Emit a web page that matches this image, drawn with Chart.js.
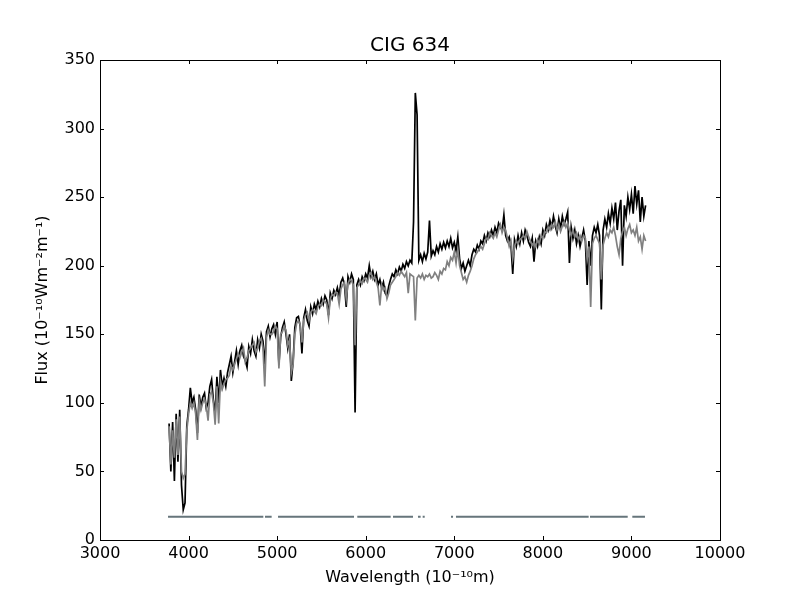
<!DOCTYPE html>
<html>
<head>
<meta charset="utf-8">
<script src="https://cdn.jsdelivr.net/npm/chart.js@4.4.0/dist/chart.umd.min.js"></script>
<style>
html,body{margin:0;padding:0;background:#ffffff;}
#wrap{width:800px;height:600px;}
</style>
</head>
<body>
<div id="wrap"><canvas id="c" width="800" height="600"></canvas></div>
<script>
// Wavelength grid (Angstrom)
const wavelength = [
3780,3800,3820,3840,3860,3880,3900,3920,3940,3960,
3980,4000,4020,4040,4060,4080,4100,4120,4140,4160,
4180,4200,4220,4240,4260,4280,4300,4320,4340,4360,
4380,4400,4420,4440,4460,4480,4500,4520,4540,4560,
4580,4600,4620,4640,4660,4680,4700,4720,4740,4760,
4780,4800,4820,4840,4860,4880,4900,4920,4940,4960,
4980,5000,5020,5040,5060,5080,5100,5120,5140,5160,
5180,5200,5220,5240,5260,5280,5300,5320,5340,5360,
5380,5400,5420,5440,5460,5480,5500,5520,5540,5560,
5580,5600,5620,5640,5660,5680,5700,5720,5740,5760,
5780,5800,5820,5840,5860,5880,5900,5920,5940,5960,
5980,6000,6020,6040,6060,6080,6100,6120,6140,6160,
6180,6200,6220,6240,6260,6280,6300,6320,6340,6360,
6380,6400,6420,6440,6460,6480,6500,6520,6540,6560,
6580,6600,6620,6640,6660,6680,6700,6720,6740,6760,
6780,6800,6820,6840,6860,6880,6900,6920,6940,6960,
6980,7000,7020,7040,7060,7080,7100,7120,7140,7160,
7180,7200,7220,7240,7260,7280,7300,7320,7340,7360,
7380,7400,7420,7440,7460,7480,7500,7520,7540,7560,
7580,7600,7620,7640,7660,7680,7700,7720,7740,7760,
7780,7800,7820,7840,7860,7880,7900,7920,7940,7960,
7980,8000,8020,8040,8060,8080,8100,8120,8140,8160,
8180,8200,8220,8240,8260,8280,8300,8320,8340,8360,
8380,8400,8420,8440,8460,8480,8500,8520,8540,8560,
8580,8600,8620,8640,8660,8680,8700,8720,8740,8760,
8780,8800,8820,8840,8860,8880,8900,8920,8940,8960,
8980,9000,9020,9040,9060,9080,9100,9120,9140,9160
];

// Observed spectrum (black)
const fluxObserved = [
85,50,86,43,92,57,95,40,22,27,
83,95,111,100,104,95,78,106,97,104,
107,96,100,112,117,102,92,119,100,124,
112,118,112,122,128,134,122,130,138,128,
138,142,134,131,126,141,136,146,138,134,
146,140,150,145,128,152,156,148,154,157,
150,159,128,148,155,159,150,140,150,116,
130,155,162,163,156,136,162,168,160,156,
170,165,172,168,174,170,176,172,178,175,
164,180,176,182,179,184,178,188,191,186,
170,192,188,194,190,93,186,190,186,192,
189,194,191,200,192,196,190,194,186,190,
184,188,180,178,185,190,194,192,197,194,
199,196,201,198,203,200,204,202,232,326,
310,204,208,203,209,205,210,233,207,211,
208,214,210,216,212,217,213,218,214,220,
213,217,211,221,205,198,202,196,200,204,
200,208,212,210,215,212,218,216,222,218,
224,221,226,222,228,224,231,228,226,237,
222,218,221,215,194,219,214,222,216,224,
218,226,222,217,214,220,203,218,214,221,
216,226,222,230,226,233,228,236,229,224,
234,227,236,230,234,239,202,228,220,226,
216,222,214,220,226,218,186,218,200,222,
228,224,230,222,168,226,234,228,238,231,
242,234,246,226,240,248,200,244,236,250,
241,252,238,258,245,255,232,250,236,244
];

// Model spectrum (gray)
const fluxModel = [
83,55,80,60,88,62,90,50,45,48,
80,92,100,96,100,92,73,102,95,100,
103,98,87,106,108,100,84,112,85,116,
110,114,117,118,120,127,124,128,132,136,
133,137,140,130,133,138,140,142,144,137,
140,145,147,140,112,148,153,150,150,152,
156,154,125,150,152,156,153,142,146,122,
128,150,158,160,157,144,160,164,166,160,
166,168,167,165,170,172,171,175,174,172,
162,176,179,178,181,180,172,183,186,188,
176,187,190,189,186,142,184,186,189,187,
191,190,188,193,195,190,192,188,184,171,
186,182,184,176,180,186,188,190,192,195,
193,196,194,192,195,180,194,193,192,160,
191,193,191,194,190,193,192,194,191,192,
195,193,190,196,194,198,197,203,200,206,
204,210,202,212,200,195,190,192,188,193,
196,200,205,208,210,212,214,212,216,220,
219,224,222,220,224,221,226,230,224,228,
226,220,214,218,205,214,218,216,219,220,
222,220,225,221,218,215,217,214,219,216,
222,220,225,224,228,226,230,228,232,226,
230,225,229,232,228,231,226,222,226,221,
224,219,222,218,222,220,205,214,170,216,
220,222,219,216,190,215,220,224,221,226,
224,228,222,214,208,220,225,228,222,227,
230,224,226,222,228,218,221,212,222,218
];

// Good-pixel mask segments (Angstrom), drawn at a constant level
const maskStart = [3768, 4863, 5010, 5905, 6308, 6590, 6643, 6963, 7019, 8532, 9010];
const maskEnd   = [4844, 4938, 5868, 6282, 6534, 6620, 6666, 6986, 8517, 8958, 9153];
const maskLevel = 17;

// Tick values
const xTicks = [3000, 4000, 5000, 6000, 7000, 8000, 9000, 10000];
const yTicks = [0, 50, 100, 150, 200, 250, 300, 350];

const obsData = wavelength.map((w, i) => ({x: w, y: fluxObserved[i]}));
const modData = wavelength.map((w, i) => ({x: w, y: fluxModel[i]}));
const maskData = [];
maskStart.forEach((s, i) => {
  maskData.push({x: s, y: maskLevel});
  maskData.push({x: maskEnd[i], y: maskLevel});
  maskData.push({x: maskEnd[i] + 1, y: null});
});

const framePlugin = {
  id: 'frameTicks',
  afterDatasetsDraw(chart) {
    const {ctx, chartArea: a, scales: {x, y}} = chart;
    ctx.save();
    ctx.strokeStyle = '#000000';
    ctx.lineWidth = 1;
    ctx.beginPath();
    x.ticks.forEach(t => {
      const px = Math.round(x.getPixelForValue(t.value)) + 0.5;
      ctx.moveTo(px, a.bottom); ctx.lineTo(px, a.bottom - 4);
      ctx.moveTo(px, a.top); ctx.lineTo(px, a.top + 4);
    });
    y.ticks.forEach(t => {
      const py = Math.round(y.getPixelForValue(t.value)) + 0.5;
      ctx.moveTo(a.left, py); ctx.lineTo(a.left + 4, py);
      ctx.moveTo(a.right, py); ctx.lineTo(a.right - 4, py);
    });
    ctx.stroke();
    ctx.strokeRect(Math.round(a.left) + 0.5, Math.round(a.top) + 0.5,
                   Math.round(a.right - a.left), Math.round(a.bottom - a.top));
    ctx.restore();
  }
};

const FONT = 'DejaVu Sans';

new Chart(document.getElementById('c'), {
  type: 'line',
  data: {
    datasets: [
      {label: 'Model', data: modData, borderColor: '#808080', borderWidth: 1.7,
       pointRadius: 0, tension: 0, order: 0},
      {label: 'Observed', data: obsData, borderColor: '#000000', borderWidth: 1.7,
       pointRadius: 0, tension: 0, order: 1},
      {label: 'Mask', data: maskData, borderColor: '#66757b', borderWidth: 2,
       pointRadius: 0, tension: 0, spanGaps: false, order: 2}
    ]
  },
  options: {
    responsive: false,
    animation: false,
    devicePixelRatio: 1,
    layout: {padding: {left: 0, right: 80, top: 0, bottom: 0}},
    plugins: {
      legend: {display: false},
      tooltip: {enabled: false},
      title: {
        display: true, text: 'CIG 634', color: '#000000', fullSize: false,
        font: {family: FONT, size: 20, weight: 'normal'},
        padding: {top: 34, bottom: 2}
      }
    },
    scales: {
      x: {
        type: 'linear', min: 3000, max: 10000,
        grid: {display: false, drawTicks: false},
        border: {display: false},
        afterBuildTicks: s => { s.ticks = xTicks.map(v => ({value: v})); },
        afterFit: s => { s.height = 60; },
        ticks: {color: '#000000', padding: 4, maxRotation: 0,
                font: {family: FONT, size: 16}, callback: v => String(v)},
        title: {display: true, text: 'Wavelength (10⁻¹⁰m)', color: '#000000',
                font: {family: FONT, size: 16}, padding: {top: 0, bottom: 13}}
      },
      y: {
        type: 'linear', min: 0, max: 350,
        grid: {display: false, drawTicks: false},
        border: {display: false},
        afterBuildTicks: s => { s.ticks = yTicks.map(v => ({value: v})); },
        afterFit: s => { s.width = 100; },
        ticks: {color: '#000000', padding: 5,
                font: {family: FONT, size: 16}, callback: v => String(v)},
        title: {display: true, text: 'Flux (10⁻¹⁰Wm⁻²m⁻¹)', color: '#000000',
                font: {family: FONT, size: 16}, padding: {top: 33, bottom: 0}}
      }
    }
  },
  plugins: [framePlugin]
});
</script>
</body>
</html>
